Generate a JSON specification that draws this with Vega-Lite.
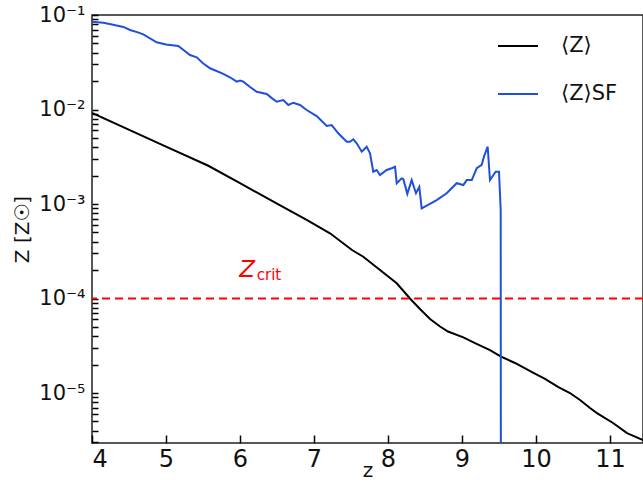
{
  "$schema": "https://vega.github.io/schema/vega-lite/v6.json",
  "width": 551,
  "height": 428,
  "autosize": {"type": "none"},
  "padding": {"left": 92, "top": 15, "right": 0, "bottom": 40},
  "background": "white",
  "config": {
    "view": {"stroke": "#222", "strokeWidth": 1.5}
  },
  "datasets": {
    "lines": [
      {"z": 4.0, "Z": 0.00918, "series": "⟨Z⟩"},
      {"z": 5.0, "Z": 0.00404, "series": "⟨Z⟩"},
      {"z": 5.572, "Z": 0.00254, "series": "⟨Z⟩"},
      {"z": 6.0, "Z": 0.00166, "series": "⟨Z⟩"},
      {"z": 6.5, "Z": 0.00101, "series": "⟨Z⟩"},
      {"z": 6.901, "Z": 0.000678, "series": "⟨Z⟩"},
      {"z": 7.216, "Z": 0.00049, "series": "⟨Z⟩"},
      {"z": 7.514, "Z": 0.000326, "series": "⟨Z⟩"},
      {"z": 7.666, "Z": 0.000277, "series": "⟨Z⟩"},
      {"z": 7.892, "Z": 0.0002, "series": "⟨Z⟩"},
      {"z": 8.118, "Z": 0.000145, "series": "⟨Z⟩"},
      {"z": 8.297, "Z": 0.0001, "series": "⟨Z⟩"},
      {"z": 8.432, "Z": 7.74e-5, "series": "⟨Z⟩"},
      {"z": 8.568, "Z": 6.07e-5, "series": "⟨Z⟩"},
      {"z": 8.703, "Z": 5.06e-5, "series": "⟨Z⟩"},
      {"z": 8.811, "Z": 4.48e-5, "series": "⟨Z⟩"},
      {"z": 9.018, "Z": 3.88e-5, "series": "⟨Z⟩"},
      {"z": 9.176, "Z": 3.38e-5, "series": "⟨Z⟩"},
      {"z": 9.378, "Z": 2.85e-5, "series": "⟨Z⟩"},
      {"z": 9.527, "Z": 2.43e-5, "series": "⟨Z⟩"},
      {"z": 9.716, "Z": 2.08e-5, "series": "⟨Z⟩"},
      {"z": 9.959, "Z": 1.64e-5, "series": "⟨Z⟩"},
      {"z": 10.122, "Z": 1.41e-5, "series": "⟨Z⟩"},
      {"z": 10.297, "Z": 1.16e-5, "series": "⟨Z⟩"},
      {"z": 10.459, "Z": 1.0e-5, "series": "⟨Z⟩"},
      {"z": 10.595, "Z": 8.43e-6, "series": "⟨Z⟩"},
      {"z": 10.73, "Z": 6.94e-6, "series": "⟨Z⟩"},
      {"z": 10.824, "Z": 6.14e-6, "series": "⟨Z⟩"},
      {"z": 11.041, "Z": 4.82e-6, "series": "⟨Z⟩"},
      {"z": 11.23, "Z": 3.77e-6, "series": "⟨Z⟩"},
      {"z": 11.446, "Z": 3.18e-6, "series": "⟨Z⟩"},
      {"z": 4.0, "Z": 0.0849, "series": "⟨Z⟩SF"},
      {"z": 4.153, "Z": 0.0829, "series": "⟨Z⟩SF"},
      {"z": 4.27, "Z": 0.0795, "series": "⟨Z⟩SF"},
      {"z": 4.424, "Z": 0.0748, "series": "⟨Z⟩SF"},
      {"z": 4.514, "Z": 0.0694, "series": "⟨Z⟩SF"},
      {"z": 4.62, "Z": 0.0655, "series": "⟨Z⟩SF"},
      {"z": 4.693, "Z": 0.0625, "series": "⟨Z⟩SF"},
      {"z": 4.874, "Z": 0.0514, "series": "⟨Z⟩SF"},
      {"z": 5.0, "Z": 0.0488, "series": "⟨Z⟩SF"},
      {"z": 5.166, "Z": 0.047, "series": "⟨Z⟩SF"},
      {"z": 5.25, "Z": 0.0418, "series": "⟨Z⟩SF"},
      {"z": 5.324, "Z": 0.0377, "series": "⟨Z⟩SF"},
      {"z": 5.415, "Z": 0.0357, "series": "⟨Z⟩SF"},
      {"z": 5.5, "Z": 0.0309, "series": "⟨Z⟩SF"},
      {"z": 5.595, "Z": 0.0273, "series": "⟨Z⟩SF"},
      {"z": 5.774, "Z": 0.0238, "series": "⟨Z⟩SF"},
      {"z": 5.87, "Z": 0.0218, "series": "⟨Z⟩SF"},
      {"z": 5.955, "Z": 0.0197, "series": "⟨Z⟩SF"},
      {"z": 6.0, "Z": 0.0203, "series": "⟨Z⟩SF"},
      {"z": 6.045, "Z": 0.0197, "series": "⟨Z⟩SF"},
      {"z": 6.14, "Z": 0.0172, "series": "⟨Z⟩SF"},
      {"z": 6.226, "Z": 0.01543, "series": "⟨Z⟩SF"},
      {"z": 6.361, "Z": 0.01459, "series": "⟨Z⟩SF"},
      {"z": 6.43, "Z": 0.0132, "series": "⟨Z⟩SF"},
      {"z": 6.496, "Z": 0.01209, "series": "⟨Z⟩SF"},
      {"z": 6.585, "Z": 0.01261, "series": "⟨Z⟩SF"},
      {"z": 6.653, "Z": 0.01116, "series": "⟨Z⟩SF"},
      {"z": 6.72, "Z": 0.0118, "series": "⟨Z⟩SF"},
      {"z": 6.811, "Z": 0.01116, "series": "⟨Z⟩SF"},
      {"z": 6.901, "Z": 0.00988, "series": "⟨Z⟩SF"},
      {"z": 7.036, "Z": 0.00853, "series": "⟨Z⟩SF"},
      {"z": 7.172, "Z": 0.00669, "series": "⟨Z⟩SF"},
      {"z": 7.239, "Z": 0.00685, "series": "⟨Z⟩SF"},
      {"z": 7.328, "Z": 0.0056, "series": "⟨Z⟩SF"},
      {"z": 7.442, "Z": 0.00456, "series": "⟨Z⟩SF"},
      {"z": 7.486, "Z": 0.00456, "series": "⟨Z⟩SF"},
      {"z": 7.531, "Z": 0.00484, "series": "⟨Z⟩SF"},
      {"z": 7.577, "Z": 0.00439, "series": "⟨Z⟩SF"},
      {"z": 7.645, "Z": 0.00358, "series": "⟨Z⟩SF"},
      {"z": 7.712, "Z": 0.00404, "series": "⟨Z⟩SF"},
      {"z": 7.757, "Z": 0.00344, "series": "⟨Z⟩SF"},
      {"z": 7.801, "Z": 0.0022, "series": "⟨Z⟩SF"},
      {"z": 7.847, "Z": 0.00229, "series": "⟨Z⟩SF"},
      {"z": 7.892, "Z": 0.00203, "series": "⟨Z⟩SF"},
      {"z": 7.982, "Z": 0.00229, "series": "⟨Z⟩SF"},
      {"z": 8.05, "Z": 0.00239, "series": "⟨Z⟩SF"},
      {"z": 8.095, "Z": 0.00248, "series": "⟨Z⟩SF"},
      {"z": 8.118, "Z": 0.00166, "series": "⟨Z⟩SF"},
      {"z": 8.185, "Z": 0.00187, "series": "⟨Z⟩SF"},
      {"z": 8.207, "Z": 0.00184, "series": "⟨Z⟩SF"},
      {"z": 8.261, "Z": 0.00128, "series": "⟨Z⟩SF"},
      {"z": 8.32, "Z": 0.00179, "series": "⟨Z⟩SF"},
      {"z": 8.378, "Z": 0.0013, "series": "⟨Z⟩SF"},
      {"z": 8.423, "Z": 0.00152, "series": "⟨Z⟩SF"},
      {"z": 8.455, "Z": 0.000901, "series": "⟨Z⟩SF"},
      {"z": 8.658, "Z": 0.0011, "series": "⟨Z⟩SF"},
      {"z": 8.793, "Z": 0.0013, "series": "⟨Z⟩SF"},
      {"z": 8.928, "Z": 0.00166, "series": "⟨Z⟩SF"},
      {"z": 9.018, "Z": 0.00159, "series": "⟨Z⟩SF"},
      {"z": 9.064, "Z": 0.00179, "series": "⟨Z⟩SF"},
      {"z": 9.132, "Z": 0.00179, "series": "⟨Z⟩SF"},
      {"z": 9.199, "Z": 0.00239, "series": "⟨Z⟩SF"},
      {"z": 9.266, "Z": 0.00259, "series": "⟨Z⟩SF"},
      {"z": 9.297, "Z": 0.00317, "series": "⟨Z⟩SF"},
      {"z": 9.347, "Z": 0.00404, "series": "⟨Z⟩SF"},
      {"z": 9.378, "Z": 0.00179, "series": "⟨Z⟩SF"},
      {"z": 9.455, "Z": 0.0022, "series": "⟨Z⟩SF"},
      {"z": 9.5, "Z": 0.0022, "series": "⟨Z⟩SF"},
      {"z": 9.523, "Z": 0.000864, "series": "⟨Z⟩SF"},
      {"z": 9.527, "Z": 1e-8, "series": "⟨Z⟩SF"}
    ],
    "crit": [{"Zc": 0.0001}],
    "labZ": [{"z": 6.095, "Z": 0.000169, "text": "Z"}],
    "labCrit": [{"z": 6.226, "Z": 0.000157, "text": "crit"}]
  },
  "layer": [
    {
      "data": {"name": "lines"},
      "mark": {"type": "line", "clip": true, "strokeWidth": 2, "interpolate": "linear"},
      "encoding": {
        "x": {"field": "z", "type": "quantitative", "scale": {"domain": [4, 11.446], "nice": false, "zero": false},
          "axis": {"orient": "bottom", "values": [4, 5, 6, 7, 8, 9, 10, 11], "format": "d", "gridOpacity": 0, "domainOpacity": 0, "tickColor": "black", "tickWidth": 1.5, "offset": -8, "tickSize": 8, "labelFont": "DejaVu Sans", "labelColor": "#111", "labelFontSize": 24, "labelPadding": 4, "title": "z", "titleFont": "DejaVu Sans", "titleColor": "#111", "titleFontWeight": "normal", "titleFontSize": 20, "titlePadding": -11}},
        "y": {"field": "Z", "type": "quantitative", "scale": {"type": "log", "domain": [2.96e-6, 0.1], "nice": false},
          "axis": {"orient": "left", "values": [3e-6,4e-6,5e-6,6e-6,7e-6,8e-6,9e-6,1e-5,2e-5,3e-5,4e-5,5e-5,6e-5,7e-5,8e-5,9e-5,1e-4,2e-4,3e-4,4e-4,5e-4,6e-4,7e-4,8e-4,9e-4,1e-3,2e-3,3e-3,4e-3,5e-3,6e-3,7e-3,8e-3,9e-3,1e-2,2e-2,3e-2,4e-2,5e-2,6e-2,7e-2,8e-2,9e-2,1e-1], "gridOpacity": 0, "domainOpacity": 0, "tickColor": "black", "tickWidth": 1.5, "offset": -6, "tickSize": 6,
            "labelFont": "DejaVu Sans", "labelColor": "#111", "labelFontSize": 21, "labelPadding": 7,
            "labelExpr": "abs(log(datum.value)/LN10 - round(log(datum.value)/LN10)) < 0.001 ? '10⁻' + ['⁰','¹','²','³','⁴','⁵','⁶'][-round(log(datum.value)/LN10)] : ''",
            "title": "Z [Z☉]", "titleFont": "DejaVu Sans", "titleColor": "#111", "titleFontWeight": "normal", "titleFontSize": 20, "titlePadding": 6, "labelOverlap": false}},
        "color": {"field": "series", "type": "nominal", "scale": {"domain": ["⟨Z⟩", "⟨Z⟩SF"], "range": ["#000000", "#1f4fdc"]},
          "legend": {"orient": "none", "legendX": 405, "legendY": 10, "title": null, "symbolType": "stroke", "symbolSize": 1600, "symbolStrokeWidth": 2, "labelFont": "DejaVu Sans", "labelFontSize": 21, "labelOffset": 22, "rowPadding": 17, "labelColor": "#111"}}
      }
    },
    {
      "data": {"name": "crit"},
      "mark": {"type": "rule", "color": "#ff0000", "strokeWidth": 2, "strokeDash": [8, 5]},
      "encoding": {
        "y": {"field": "Zc", "type": "quantitative"}
      }
    },
    {
      "data": {"name": "labZ"},
      "mark": {"type": "text", "color": "#ff0000", "font": "DejaVu Sans", "fontSize": 23, "fontStyle": "italic", "align": "center", "baseline": "alphabetic"},
      "encoding": {
        "x": {"field": "z", "type": "quantitative"},
        "y": {"field": "Z", "type": "quantitative"},
        "text": {"field": "text"}
      }
    },
    {
      "data": {"name": "labCrit"},
      "mark": {"type": "text", "color": "#ff0000", "font": "DejaVu Sans", "fontSize": 15, "align": "left", "baseline": "alphabetic"},
      "encoding": {
        "x": {"field": "z", "type": "quantitative"},
        "y": {"field": "Z", "type": "quantitative"},
        "text": {"field": "text"}
      }
    }
  ]
}
